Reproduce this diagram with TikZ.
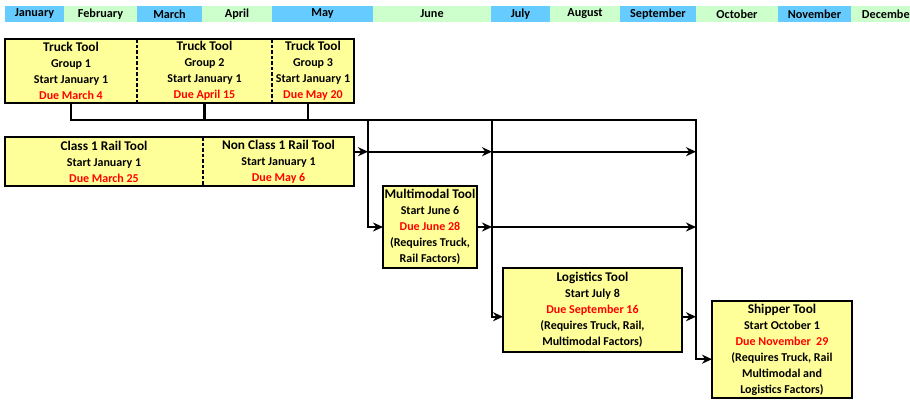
\documentclass[tikz,border=0pt]{standalone}
\usepackage{fontspec}
\setmainfont{Carlito}
\usetikzlibrary{calc,positioning,arrows.meta}

\definecolor{monthblue}{HTML}{66CCFF}
\definecolor{monthgreen}{HTML}{CCFFCC}
\definecolor{toolfill}{HTML}{FFFF99}
\definecolor{duered}{HTML}{FF0000}

\newcommand{\due}[1]{\textcolor{duered}{#1}}
\newcommand{\tooltitle}[1]{{\fontsize{13.3}{16}\selectfont #1}}

\tikzset{
  month/.style={fill=#1, minimum height=16pt, inner sep=0, outer sep=0, font=\bfseries\fontsize{12.2}{14}\selectfont},
  tool/.style={fill=toolfill, inner sep=0, outer sep=0, align=center, font=\bfseries\fontsize{12}{16}\selectfont},
  toolborder/.style={line width=2.2pt},
  divider/.style={line width=1.5pt, dash pattern=on 3.5pt off 2pt},
  link/.style={line width=2.1pt},
  feed/.style={line width=2.1pt, -{Stealth[length=10pt,width=9pt]}},
}

\begin{document}
\begin{tikzpicture}[x=1pt, y=-1pt]
\clip[use as bounding box] (0,0) rectangle (910,399);

% month bar
\node(jan)[month=monthblue, minimum width=59pt] at (34.5,14) {January};
\node(feb)[month=monthgreen, minimum width=73pt] at (100.5,14) {February};
\node(mar)[month=monthblue, minimum width=65pt] at (169.5,14) {March};
\node(apr)[month=monthgreen, minimum width=70pt] at (237,14) {April};
\node(may)[month=monthblue, minimum width=101pt] at (322.5,14) {May};
\node(jun)[month=monthgreen, minimum width=118pt] at (432,14) {June};
\node(jul)[month=monthblue, minimum width=59pt] at (520.5,14) {July};
\node(aug)[month=monthgreen, minimum width=70pt] at (585,14) {August};
\node(sep)[month=monthblue, minimum width=76pt] at (658,14) {September};
\node(oct)[month=monthgreen, minimum width=82pt] at (737,14) {October};
\node(nov)[month=monthblue, minimum width=73pt] at (814.5,14) {November};
\node(dec)[month=monthgreen, minimum width=74pt] at (888,14) {December};


% truck tools
\node(truck1)[tool, minimum width=132pt, minimum height=64pt] at (71,71) {\tooltitle{Truck Tool}\\Group 1\\Start January 1\\\due{Due March 4}};
\node(truck2)[tool, minimum width=135pt, minimum height=64pt, right=0pt of truck1] {\tooltitle{Truck Tool}\\Group 2\\Start January 1\\\due{Due April 15}};
\node(truck3)[tool, minimum width=82pt, minimum height=64pt, right=0pt of truck2] {\tooltitle{Truck Tool}\\Group 3\\Start January 1\\\due{Due May 20}};

\draw[toolborder] (truck1.north west) rectangle (truck3.south east);
\draw[divider] (truck1.north east) -- (truck1.south east);
\draw[divider] (truck2.north east) -- (truck2.south east);


% rail tools
\node(rail1)[tool, minimum width=198pt, minimum height=49pt] at (104,161.5) {\tooltitle{Class 1 Rail Tool}\\Start January 1\\\due{Due March 25}};
\node(rail2)[tool, minimum width=151pt, minimum height=49pt, right=0pt of rail1] {\tooltitle{Non Class 1 Rail Tool}\\Start January 1\\\due{Due May 6}};

\draw[toolborder] (rail1.north west) rectangle (rail2.south east);
\draw[divider] (rail1.north east) -- (rail1.south east);


% later tools
\node(multi)[tool, draw, toolborder, minimum width=94pt, minimum height=82pt] at (430,227) {\tooltitle{Multimodal Tool}\\Start June 6\\\due{Due June 28}\\(Requires Truck,\\Rail Factors)};
\node(logi)[tool, draw, toolborder, minimum width=179pt, minimum height=84pt] at (592.5,310) {\tooltitle{Logistics Tool}\\Start July 8\\\due{Due September 16}\\(Requires Truck, Rail,\\Multimodal Factors)};
\node(ship)[tool, draw, toolborder, minimum width=140pt, minimum height=97pt] at (782,349.5) {\tooltitle{Shipper Tool}\\Start October 1\\\due{Due November\ \ 29}\\(Requires Truck, Rail\\Multimodal and\\Logistics Factors)};


% connector points
\coordinate(bus1) at (368,120);
\coordinate(bus2) at (492,120);
\coordinate(bus3) at (696,120);
\coordinate(t3drop) at ($(truck3.south)-(5,0)$);
\coordinate(railOut) at ($(rail2.north east)!0.3!(rail2.south east)$);
\coordinate(logiIn) at ($(logi.north west)!0.58!(logi.south west)$);
\coordinate(logiOut) at ($(logi.north east)!0.58!(logi.south east)$);
\coordinate(shipIn) at ($(ship.north west)!0.6!(ship.south west)$);

% arrows
\draw[feed] (truck1.south) |- (bus3) |- (shipIn);
\draw[link] (truck2.south) -- (truck2.south |- bus1);
\draw[link] (t3drop) -- (t3drop |- bus1);

\draw[feed] (bus1) |- (multi.west);
\draw[feed] (bus2) |- (logiIn);

\draw[feed] (railOut) -- (railOut -| bus1);
\draw[feed] (railOut -| bus1) -- (railOut -| bus2);
\draw[feed] (railOut -| bus2) -- (railOut -| bus3);

\draw[feed] (multi.east) -- (multi.east -| bus2);
\draw[feed] (multi.east -| bus2) -- (multi.east -| bus3);

\draw[feed] (logiOut) -- (logiOut -| bus3);

\end{tikzpicture}
\end{document}
